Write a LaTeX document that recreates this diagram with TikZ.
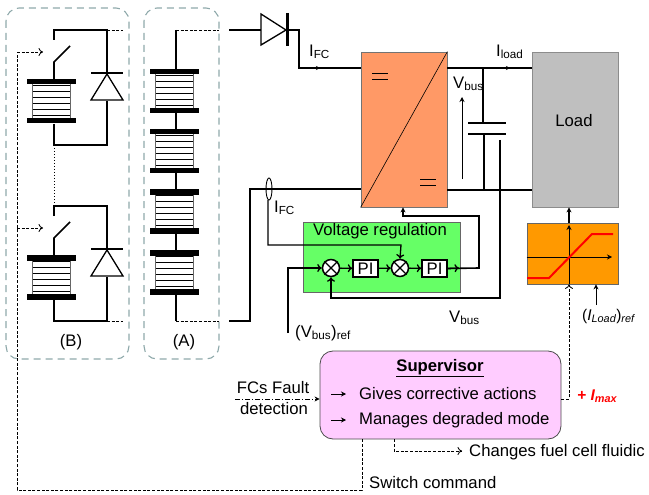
\documentclass[tikz,border=0pt]{standalone}
\usepackage{fontspec}
\setmainfont{Liberation Sans}
\usetikzlibrary{arrows.meta,calc}
\definecolor{dashgray}{HTML}{8FA9AB}
\definecolor{convorange}{HTML}{FF9966}
\definecolor{loadgray}{HTML}{BFBFBF}
\definecolor{regulgreen}{HTML}{66FF66}
\definecolor{limitorange}{HTML}{FF9900}
\definecolor{supervpink}{HTML}{FFCCFF}
\tikzset{
    wire/.style={line width=1.6pt},
    sig/.style={line width=0.85pt,dash pattern=on 3pt off 1.6pt},
    thinarrow/.style={line width=1pt,-{Stealth[length=5pt,width=5pt]}},
    openarrow/.style={line width=1.3pt,-{To[length=4.5pt,width=8pt]}},
    cellbar/.style={fill=black,inner sep=0pt,minimum width=49pt,minimum height=5.5pt},
    groupbox/.style={draw=dashgray,line width=1.1pt,dash pattern=on 7pt off 5pt,rounded corners=13pt},
    pibox/.style={draw,fill=white,line width=1.4pt,inner sep=0pt,minimum width=25pt,minimum height=17pt,font=\fontsize{16.7}{16.7}\selectfont},
    sumnode/.style={draw,fill=white,circle,line width=1.5pt,inner sep=0pt,minimum size=17pt},
    lbl/.style={inner sep=0pt,font=\fontsize{16.7}{16.7}\selectfont}
}
\begin{document}
\begin{tikzpicture}[x=1pt,y=-1pt]
    \useasboundingbox (0,0) rectangle (649,495);

    % dashed groups
    \draw[groupbox] (6,8) rectangle (129,359);
    \draw[groupbox] (144,8) rectangle (219,359);

    % fuel cell stacks
    \foreach \xc/\ys/\name in {174/69/cellA, 174/129/cellB, 174/189/cellC, 174/250/cellD, 51.5/79/cellE, 51.5/255/cellF} {
        \fill[white] (\xc-19,\ys) rectangle (\xc+19,\ys+44);
        \foreach \k in {1,...,6} {
            \draw[line width=0.6pt] (\xc-19,\ys+6*\k) -- (\xc+19,\ys+6*\k);
        }
        \draw[line width=0.8pt,black!60] (\xc-19,\ys) -- (\xc-19,\ys+44) (\xc+19,\ys) -- (\xc+19,\ys+44);
        \node[cellbar] (\name t) at (\xc,\ys+2.75) {};
        \node[cellbar] (\name b) at (\xc,\ys+41.75) {};
    }

    % stack A wiring
    \coordinate (atop) at (219,30);
    \coordinate (abot) at (219,321);
    \draw[wire] (176,30) -- (176,69);
    \draw[sig] (176,30) -- (atop);
    \draw[wire] (176,113) -- (176,129);
    \draw[wire] (176,173) -- (176,189);
    \draw[wire] (176,233) -- (176,250);
    \draw[wire] (176,294) -- (176,321);
    \draw[sig] (176,321) -- (abot);

    % stack B wiring with switch and diode
    \foreach \dy in {0,176} {
        \begin{scope}[yshift=-\dy pt]
            \draw[wire] (54,40) -- (54,30) -- (107,30) -- (107,73);
            \draw[wire] (54,79) -- (54,62) -- (70,46);
            \draw[wire] (54,124) -- (54,145) -- (107,145) -- (107,101);
            \draw[line width=2pt] (91,73) -- (123,73);
            \draw[line width=1.3pt,fill=white] (107,74) -- (91,100) -- (123,100) -- cycle;
            \draw[sig,-{To[length=4.5pt,width=8pt]}] (17,52) -- (43,52);
        \end{scope}
    }
    \draw[sig] (107,30) -- (123,30);
    \draw[sig] (107,321) -- (123,321);
    \draw[line width=1pt,dotted] (54,145) -- (54,205);

    \node[lbl] (labB) at (71,342) {(B)};
    \node[lbl] (labA) at (184,342) {(A)};

    % converter and load
    \node[draw=black!55,fill=convorange,line width=0.8pt,minimum width=86pt,minimum height=155pt,inner sep=0pt] (conv) at (404,129.5) {};
    \draw[line width=0.6pt] (conv.south west) -- (conv.north east);
    \draw[line width=0.8pt] (372,73) -- (388,73) (372,79) -- (388,79);
    \draw[line width=0.8pt] (420,179) -- (436,179) (420,185) -- (436,185);
    \node[draw=black!45,fill=loadgray,line width=0.8pt,minimum width=86pt,minimum height=155pt,inner sep=0pt] (load) at (575,129.5) {};
    \node[lbl] (loadlab) at (574,121) {Load};

    % top branch
    \coordinate (dioin) at (261,30);
    \coordinate (dioout) at (287,30);
    \draw[wire] (229,30) -- (dioin);
    \draw[line width=1.3pt] (261,14) -- (261,45) -- (286,30) -- cycle;
    \draw[line width=3pt] (287.5,13) -- (287.5,46);
    \draw[wire] (dioout) -- (299,30) -- (299,68) -- (conv.west |- 0,68);
    \draw[-{Stealth[length=4pt,width=4pt]},line width=0.6pt] (312,68) -- (320,68);
    \node[lbl,anchor=west] (ifcup) at (309,52) {I\textsubscript{FC}};

    % bottom branch
    \draw[wire] (229,321) -- (250,321) -- (250,189) -- (conv.west |- 0,189);
    \draw[line width=0.9pt] (269,189) ellipse (3 and 11);
    \node[lbl,anchor=west] (ifclow) at (274,208) {I\textsubscript{FC}};

    % bus and capacitor
    \draw[wire] (conv.east |- 0,68) -- (load.west |- 0,68);
    \draw[wire] (conv.east |- 0,190) -- (load.west |- 0,190);
    \draw[-{Stealth[length=4pt,width=4pt]},line width=0.6pt] (502,68) -- (510,68);
    \draw[wire] (483,68) -- (483,123);
    \draw[wire] (484,134) -- (484,190);
    \draw[line width=1.5pt] (468,123) -- (506,123) (468,134) -- (506,134);
    \draw[thinarrow] (462,179) -- (462,97);
    \node[lbl,anchor=west] (vbus) at (453,84) {V\textsubscript{bus}};
    \node[lbl,anchor=west] (iload) at (496,52) {I\textsubscript{load}};

    % voltage regulation
    \node[draw=black!60,fill=regulgreen,line width=0.8pt,minimum width=157pt,minimum height=70pt,inner sep=0pt] (regul) at (382,257) {};
    \node[lbl] (regullab) at (380,231) {Voltage regulation};
    \node[sumnode] (sumA) at (331,268) {};
    \node[sumnode] (sumB) at (400,268) {};
    \foreach \s in {sumA,sumB} {
        \draw[line width=1.4pt] (\s.north west) -- (\s.south east) (\s.north east) -- (\s.south west);
    }
    \node[pibox] (piA) at (365.5,268.5) {PI};
    \node[pibox] (piB) at (434.5,268.5) {PI};
    \coordinate (vrefin) at (288,333);
    \draw[openarrow] (vrefin) -- (288,268) -- (sumA.west);
    \draw[openarrow] (sumA) -- (piA);
    \draw[openarrow] (piA) -- (sumB);
    \draw[openarrow] (sumB) -- (piB);
    \draw[openarrow] (piB.east) -- (459,268);
    \draw[wire,-{Stealth[length=5pt,width=5pt]}] (piB.east) -- (479,268) -- (479,216) -- (403,216) -- (403,0 |- conv.south);
    \draw[openarrow] (268,200) -- (268,245) -- (401,245) -- (sumB.north);
    \draw[openarrow] (500,140) -- (500,298) -- (331,298) -- (sumA.south);
    \node[lbl,anchor=west] (vreflab) at (295,333) {(V\textsubscript{bus})\textsubscript{ref}};
    \node[lbl,anchor=west] (vbuslab) at (449,318) {V\textsubscript{bus}};

    % current limiter
    \node[draw=black!60,fill=limitorange,line width=0.8pt,minimum width=91pt,minimum height=61pt,inner sep=0pt] (limit) at (572.5,253.5) {};
    \draw[thinarrow,line width=0.8pt] (569,284) -- (569,225);
    \draw[thinarrow,line width=0.8pt] (limit.west |- 0,257) -- (612,257);
    \draw[red,line width=2pt] (527,278) -- (549,278) -- (592,234) -- (613,234);
    \draw[thinarrow,line width=1.3pt] (569,223) -- (569,0 |- load.south);
    \draw[thinarrow] (596,305) -- (596,0 |- limit.south);
    \node[lbl,anchor=west,font=\fontsize{15.5}{15.5}\selectfont] (ireflab) at (582,316) {(\textit{I\textsubscript{Load}})\textsubscript{\textit{ref}}};

    % supervisor
    \node[draw=black!70,fill=supervpink,line width=0.8pt,rounded corners=13pt,minimum width=241pt,minimum height=88pt,inner sep=0pt] (superv) at (440.5,395) {};
    \node[lbl] (supervlab) at (440,368) {\textbf{\underline{Supervisor}}};
    \coordinate (arrA) at (331,394);
    \coordinate (arrB) at (331,420);
    \draw[thinarrow,line width=0.7pt] (arrA) -- ++(15,0);
    \draw[thinarrow,line width=0.7pt] (arrB) -- ++(15,0);
    \node[lbl,anchor=west] (gives) at (359,394) {Gives corrective actions};
    \node[lbl,anchor=west] (manages) at (359,420) {Manages degraded mode};

    % supervisor signals
    \node[lbl] (fault) at (273,388) {FCs Fault};
    \node[lbl] (detect) at (274,409) {detection};
    \draw[line width=0.9pt,dash pattern=on 5pt off 2pt on 1pt off 2pt,-{Stealth[length=5pt,width=5pt]}] (235,399) -- (superv.west |- 0,399);
    \draw[sig,-{To[length=4.5pt,width=8pt]}] (superv.east |- 0,399) -- (569,399) -- (569,0 |- limit.south);
    \node[lbl,anchor=west,red,font=\fontsize{15.5}{15.5}\selectfont\bfseries\itshape] (imax) at (577,396) {+ I\textsubscript{max}};
    \draw[sig,-{To[length=4.5pt,width=8pt]}] (394,0 |- superv.south) -- (394,451) -- (462,451);
    \node[lbl,anchor=west] (fluidic) at (469,452) {Changes fuel cell fluidic};
    \draw[sig] (362,0 |- superv.south) -- (362,490) -- (17,490) -- (17,52);
    \node[lbl,anchor=west] (swcmd) at (369,483) {Switch command};
\end{tikzpicture}
\end{document}
